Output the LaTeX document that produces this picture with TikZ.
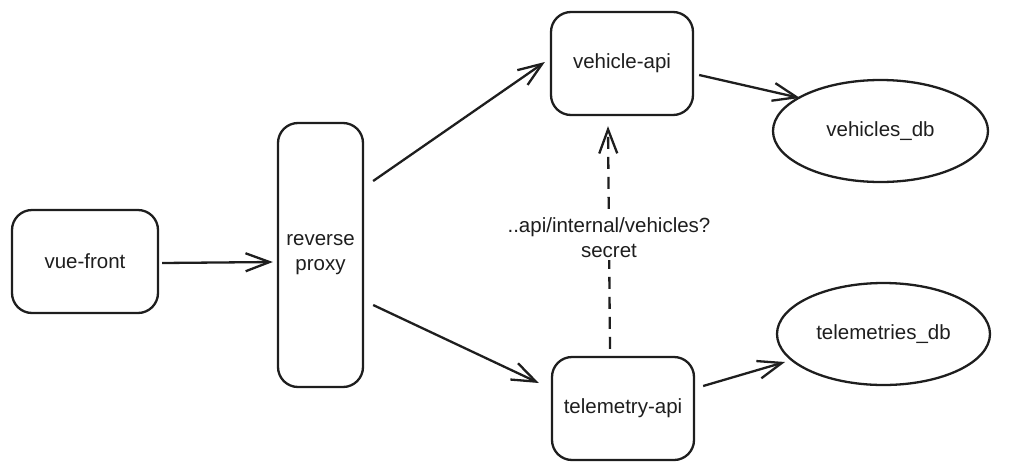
\documentclass[tikz,border=0pt]{standalone}
\usepackage{fontspec}
\setmainfont{Liberation Sans}
\usetikzlibrary{arrows.meta,shapes.geometric,calc}
\definecolor{ink}{HTML}{1E1E1E}
\begin{document}
\begin{tikzpicture}[x=1pt,y=-1pt,
  every node/.style={font=\fontsize{20.5}{25}\selectfont, text=ink},
  svcbox/.style={draw=ink, line width=2.3pt, rounded corners=20pt, align=center, inner sep=0pt},
  dbell/.style={draw=ink, line width=2.3pt, ellipse, inner sep=0pt},
  arr/.style={draw=ink, line width=2.3pt, -{Straight Barb[length=24pt,width=18pt,line width=2.3pt]}},
  dasharr/.style={arr, dash pattern=on 12pt off 8pt}]
\useasboundingbox (0,0) rectangle (1021,472);
\node[svcbox, minimum width=146pt, minimum height=103pt] (vue) at (85,261.5) {vue-front};
\node[svcbox, minimum width=85pt, minimum height=264pt] (proxy) at (320.5,255) {reverse\\proxy};
\node[svcbox, minimum width=142pt, minimum height=103pt] (vapi) at (622,63.5) {vehicle-api};
\node[svcbox, minimum width=142pt, minimum height=103pt] (tapi) at (623,408.5) {telemetry-api};
\node[dbell, minimum width=215pt, minimum height=102pt] (vdb) at (880.5,131) {vehicles\_db};
\node[dbell, minimum width=213pt, minimum height=102pt] (tdb) at (883.5,334) {telemetries\_db};
\draw[arr] ($(vue.east)+(3,1.5)$) -- ($(proxy.west)+(-4,7)$);
\draw[arr] ($(proxy.east)+(9,-74)$) -- ($(vapi.west)+(-5,-1.5)$);
\draw[arr] ($(proxy.east)+(9,50)$) -- ($(tapi.west)+(-12,-25.5)$);
\draw[arr] ($(vapi.east)+(5,11.5)$) -- ($(vdb)+(-80.5,-33)$);
\draw[arr] ($(tapi.east)+(8,-22.5)$) -- ($(tdb)+(-98.5,28)$);
\draw[dasharr] ($(tapi.north)+(-13,-7)$) -- ($(vapi.south)+(-14,10)$)
  node[midway, fill=white, align=center, inner sep=2pt] (lbl) {..api/internal/vehicles?\\secret};
\end{tikzpicture}
\end{document}
